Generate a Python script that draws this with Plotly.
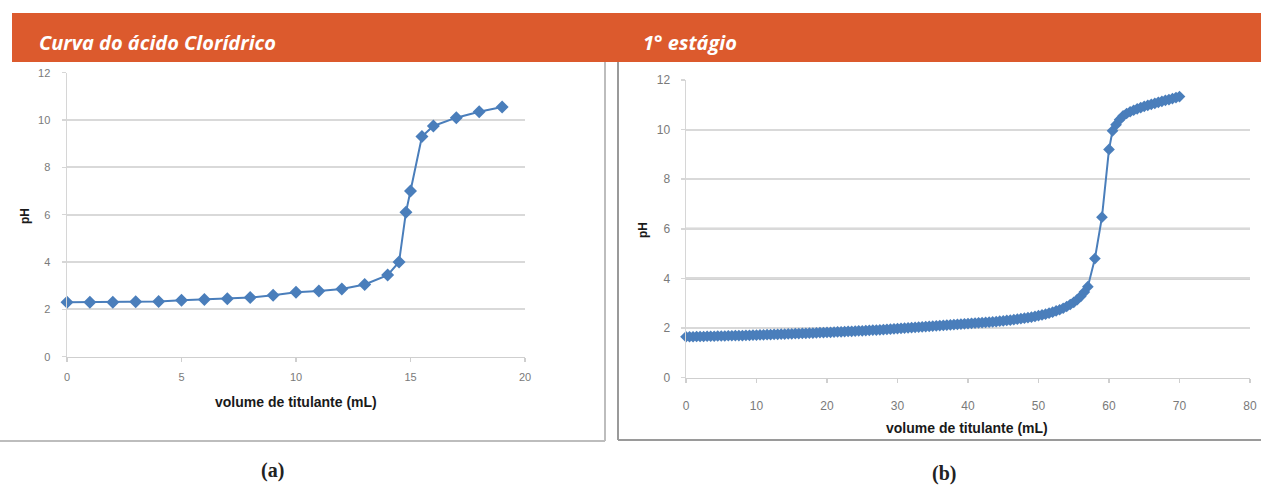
import plotly.graph_objects as go

W, H = 1261, 485

# ---------------- data ----------------
titles = ["Curva do ácido Clorídrico", "1° estágio"]
panel_labels = ["(a)", "(b)"]
x_title = "volume de titulante (mL)"
y_title = "pH"

a_vol = [0, 1, 2, 3, 4, 5, 6, 7, 8, 9, 10, 11, 12, 13, 14, 14.5, 14.8, 15, 15.5, 16, 17, 18, 19]
a_ph = [2.30, 2.30, 2.30, 2.32, 2.33, 2.38, 2.42, 2.45, 2.50, 2.60, 2.72, 2.78, 2.86, 3.05, 3.45,
        4.00, 6.10, 7.00, 9.30, 9.75, 10.10, 10.35, 10.55]

b_vol = [0, 0.5, 1, 1.5, 2, 2.5, 3, 3.5, 4, 4.5, 5, 5.5, 6, 6.5, 7, 7.5, 8, 8.5, 9, 9.5,
         10, 10.5, 11, 11.5, 12, 12.5, 13, 13.5, 14, 14.5, 15, 15.5, 16, 16.5, 17, 17.5, 18, 18.5, 19, 19.5,
         20, 20.5, 21, 21.5, 22, 22.5, 23, 23.5, 24, 24.5, 25, 25.5, 26, 26.5, 27, 27.5, 28, 28.5, 29, 29.5,
         30, 30.5, 31, 31.5, 32, 32.5, 33, 33.5, 34, 34.5, 35, 35.5, 36, 36.5, 37, 37.5, 38, 38.5, 39, 39.5,
         40, 40.5, 41, 41.5, 42, 42.5, 43, 43.5, 44, 44.5, 45, 45.5, 46, 46.5, 47, 47.5, 48, 48.5, 49, 49.5,
         50, 50.5, 51, 51.5, 52, 52.5, 53, 53.5, 54, 54.5, 55, 55.5, 56, 56.5, 57,
         58, 59, 60,
         60.5, 61, 61.5, 62, 62.5, 63, 63.5, 64, 64.5, 65, 65.5, 66, 66.5, 67, 67.5, 68, 68.5, 69, 69.5, 70]
b_ph = [1.65, 1.65, 1.65, 1.66, 1.66, 1.66, 1.67, 1.67, 1.67, 1.68, 1.68, 1.68, 1.69, 1.69, 1.70, 1.70, 1.70, 1.71, 1.71, 1.72,
        1.72, 1.73, 1.73, 1.74, 1.74, 1.75, 1.75, 1.76, 1.76, 1.77, 1.77, 1.78, 1.78, 1.79, 1.79, 1.80, 1.80, 1.81, 1.82, 1.82,
        1.83, 1.83, 1.84, 1.85, 1.85, 1.86, 1.87, 1.87, 1.88, 1.89, 1.89, 1.90, 1.91, 1.92, 1.92, 1.93, 1.94, 1.95, 1.96, 1.97,
        1.98, 1.99, 2.00, 2.01, 2.02, 2.03, 2.04, 2.05, 2.06, 2.07, 2.08, 2.09, 2.10, 2.11, 2.12, 2.13, 2.14, 2.15, 2.16, 2.17,
        2.18, 2.19, 2.20, 2.21, 2.22, 2.23, 2.24, 2.25, 2.26, 2.28, 2.29, 2.31, 2.32, 2.34, 2.36, 2.38, 2.40, 2.42, 2.44, 2.47,
        2.50, 2.53, 2.56, 2.60, 2.64, 2.69, 2.74, 2.80, 2.87, 2.95, 3.04, 3.15, 3.28, 3.45, 3.67,
        4.80, 6.47, 9.20,
        9.95, 10.20, 10.40, 10.55, 10.65, 10.72, 10.78, 10.84, 10.89, 10.94, 10.98, 11.02, 11.06, 11.10, 11.14, 11.18, 11.21, 11.25, 11.29, 11.33]

a_xticks = [0, 5, 10, 15, 20]
b_xticks = [0, 10, 20, 30, 40, 50, 60, 70, 80]
y_ticks = [0, 2, 4, 6, 8, 10, 12]
b_dark_grid = [4, 6]

# ---------------- styles ----------------
BLUE = "#4A7EBB"
ORANGE = "#DC5A2D"
GRID = "#D9D9D9"


def px(x):
    return x / W


def py(y):
    return 1 - y / H


fig = go.Figure()

fig.add_trace(go.Scatter(x=a_vol, y=a_ph, mode="lines+markers", xaxis="x", yaxis="y",
                         line=dict(color=BLUE, width=2),
                         marker=dict(symbol="diamond", size=10, color=BLUE),
                         cliponaxis=False, showlegend=False))
fig.add_trace(go.Scatter(x=b_vol, y=b_ph, mode="lines+markers", xaxis="x2", yaxis="y2",
                         line=dict(color=BLUE, width=2),
                         marker=dict(symbol="diamond", size=9, color=BLUE),
                         cliponaxis=False, showlegend=False))

tickfont_a = dict(family="Liberation Sans, Arial, sans-serif", size=11, color="#7A7A7A")
tickfont_b = dict(family="Liberation Sans, Arial, sans-serif", size=12, color="#7A7A7A")

common_x = dict(showgrid=False, zeroline=False, showline=True, linecolor="#CFCFCF", linewidth=1.5,
                ticks="outside", ticklen=4, tickcolor="#CFCFCF", tickwidth=1.5, fixedrange=True,
                automargin=False)
common_y = dict(showgrid=True, gridcolor=GRID, gridwidth=2, zeroline=False, showline=True,
                linecolor="#D6D6D6", linewidth=1.5, ticks="outside", ticklen=4, tickcolor="#D6D6D6",
                tickwidth=1.5, fixedrange=True, range=[0, 12], tickvals=y_ticks, automargin=False)

fig.update_layout(
    template="none",
    width=W, height=H, margin=dict(l=0, r=0, t=0, b=0, pad=0, autoexpand=False),
    paper_bgcolor="white", plot_bgcolor="white",
    xaxis=dict(domain=[px(67), px(525)], range=[0, 20], tickvals=a_xticks, anchor="y",
               tickfont=tickfont_a, ticklabelstandoff=6, **common_x),
    yaxis=dict(domain=[py(356.7), py(72.7)], anchor="x", tickfont=tickfont_a,
               ticklabelstandoff=9, **common_y),
    xaxis2=dict(domain=[px(686), px(1250)], range=[0, 80], tickvals=b_xticks, anchor="y2",
                tickfont=tickfont_b, ticklabelstandoff=12, **common_x),
    yaxis2=dict(domain=[py(377.7), py(80)], anchor="x2", tickfont=tickfont_b,
                ticklabelstandoff=8, **common_y),
)

shapes = []
# header bar
shapes.append(dict(type="rect", xref="paper", yref="paper", x0=px(12), x1=1.0, y0=py(62), y1=py(13),
                   fillcolor=ORANGE, line=dict(width=0), layer="above"))
# panel frames
shapes.append(dict(type="line", xref="paper", yref="paper", x0=px(605), x1=px(605), y0=py(441), y1=py(62),
                   line=dict(color="#BDBDBD", width=2)))
shapes.append(dict(type="line", xref="paper", yref="paper", x0=0, x1=px(605), y0=py(441), y1=py(441),
                   line=dict(color="#BDBDBD", width=2)))
shapes.append(dict(type="line", xref="paper", yref="paper", x0=px(618), x1=px(618), y0=py(440), y1=py(62),
                   line=dict(color="#9A9A9A", width=2)))
shapes.append(dict(type="line", xref="paper", yref="paper", x0=px(618), x1=1.0, y0=py(440), y1=py(440),
                   line=dict(color="#9A9A9A", width=2)))
# darker gridlines of panel (b)
for g in b_dark_grid:
    shapes.append(dict(type="line", xref="x2 domain", yref="y2", x0=0, x1=1, y0=g, y1=g,
                       line=dict(color="#A8A8A8", width=2), layer="below"))
fig.update_layout(shapes=shapes)

title_font = dict(family="Open Sans, Lato, sans-serif", size=20, color="white")
axis_title_font = dict(family="Liberation Sans, Arial, sans-serif", size=14, color="#1A1A1A")
ph_font = dict(family="Liberation Sans, Arial, sans-serif", size=12, color="#1A1A1A")
label_font = dict(family="Liberation Serif, Times New Roman, serif", size=20, color="#222222")

ann = [
    dict(text="<b><i>" + titles[0] + "</i></b>", x=px(37), y=py(42), xanchor="left", yanchor="middle",
         font=title_font),
    dict(text="<b><i>" + titles[1] + "</i></b>", x=px(641), y=py(42), xanchor="left", yanchor="middle",
         font=title_font),
    dict(text="<b>" + x_title + "</b>", x=px(296), y=py(402), xanchor="center", yanchor="middle",
         font=axis_title_font),
    dict(text="<b>" + x_title + "</b>", x=px(967), y=py(428), xanchor="center", yanchor="middle",
         font=axis_title_font),
    dict(text="<b>" + y_title + "</b>", x=px(25), y=py(216), xanchor="center", yanchor="middle",
         textangle=-90, font=ph_font),
    dict(text="<b>" + y_title + "</b>", x=px(643), y=py(230), xanchor="center", yanchor="middle",
         textangle=-90, font=ph_font),
    dict(text="<b>" + panel_labels[0] + "</b>", x=px(272), y=py(470), xanchor="center", yanchor="middle",
         font=label_font),
    dict(text="<b>" + panel_labels[1] + "</b>", x=px(944), y=py(473), xanchor="center", yanchor="middle",
         font=label_font),
]
for a in ann:
    a.update(xref="paper", yref="paper", showarrow=False)
fig.update_layout(annotations=ann)

# remove the default page margin so the figure sits at the window's top-left corner
fig.write_html("out.html",
               config={"displayModeBar": False, "staticPlot": True},
               post_script="document.body.style.margin='0';document.body.style.overflow='hidden';")
